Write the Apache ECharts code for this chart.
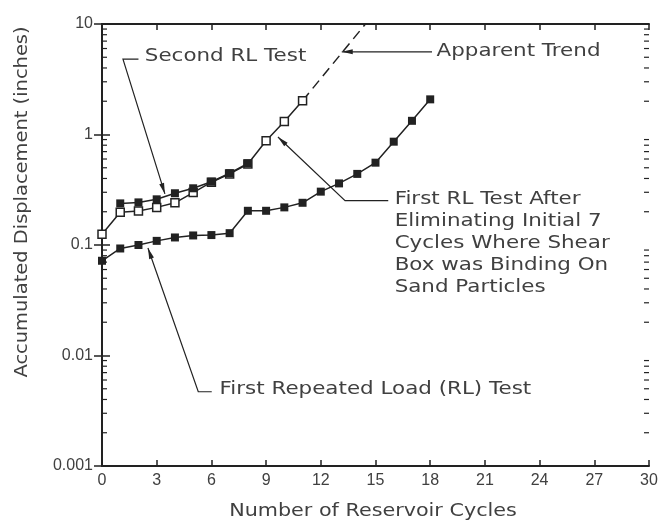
<!DOCTYPE html>
<html>
<head>
<meta charset="utf-8">
<script src="https://cdn.jsdelivr.net/npm/echarts@6/dist/echarts.min.js"></script>
<style>
html, body { margin: 0; padding: 0; background: #fff; }
#chart { width: 661px; height: 523px; }
</style>
</head>
<body>
<div id="chart"></div>
<script>
// First Repeated Load (RL) Test - lower curve, filled squares
var firstCycles = [0, 1, 2, 3, 4, 5, 6, 7, 8, 9, 10, 11, 12, 13, 14, 15, 16, 17, 18];
var firstDisp = [0.072, 0.093, 0.100, 0.109, 0.117, 0.122, 0.123, 0.128, 0.204, 0.204,
                 0.219, 0.241, 0.304, 0.361, 0.44, 0.556, 0.861, 1.33, 2.08];

// Second RL Test - upper curve, filled squares
var secondCycles = [1, 2, 3, 4, 5, 6, 7, 8];
var secondDisp = [0.238, 0.243, 0.259, 0.294, 0.326, 0.374, 0.446, 0.548];

// First RL test after eliminating initial 7 cycles - open squares
var afterCycles = [0, 1, 2, 3, 4, 5, 6, 7, 8, 9, 10, 11];
var afterDisp = [0.125, 0.198, 0.203, 0.219, 0.241, 0.298, 0.37, 0.44, 0.54, 0.879, 1.31, 2.02];

// apparent trend (dashed)
var trendCycles = [11, 14.45];
var trendDisp = [2.02, 10];

var yTickLabels = ['0.001', '0.01', '0.1', '1', '10'];
var decades = [0.001, 0.01, 0.1, 1];
var minorSteps = [2, 3, 4, 5, 6, 7, 8, 9];

var ink = '#222';
var textInk = '#404040';
var noteFont = 'DejaVu Sans';
var stretch = 1.26; // the plotter lettering is wider than any installed font

function pairs(xs, ys) {
  return xs.map(function (x, i) { return [x, ys[i]]; });
}

var minorTicks = [];
decades.forEach(function (d) {
  minorSteps.forEach(function (m) { minorTicks.push([0, m * d]); });
});

var notes = [
  { text: 'Second RL Test', at: [2.35, 5.1], path: [[2.0, 4.8], [1.15, 4.8], [3.45, 0.29]] },
  { text: 'Apparent Trend', at: [18.35, 5.6], path: [[18.1, 5.6], [13.15, 5.6]] },
  { text: 'First RL Test After\nEliminating Initial 7\nCycles Where Shear\nBox was Binding On\nSand Particles',
    at: [16.05, 0.102], path: [[15.7, 0.252], [13.33, 0.252], [9.65, 0.95]] },
  { text: 'First Repeated Load (RL) Test', at: [6.45, 0.0049], path: [[6.02, 0.0047], [5.28, 0.0047], [2.52, 0.094]] }
];

function arrowHead(p0, p1) {
  var dx = p1[0] - p0[0], dy = p1[1] - p0[1];
  var len = Math.sqrt(dx * dx + dy * dy);
  var ux = dx / len, uy = dy / len;
  var bx = p1[0] - ux * 11, by = p1[1] - uy * 11;
  return [p1, [bx - uy * 2.5, by + ux * 2.5], [bx + uy * 2.5, by - ux * 2.5]];
}

var chart = echarts.init(document.getElementById('chart'));

var squareLine = function (name, data, filled) {
  return {
    name: name,
    type: 'line',
    data: data,
    symbol: 'rect',
    symbolSize: 8,
    showSymbol: true,
    lineStyle: { color: ink, width: 1.5 },
    itemStyle: { color: filled ? ink : '#fff', borderColor: ink, borderWidth: filled ? 0 : 1.5 },
    z: filled ? 4 : 3,
    animation: false
  };
};

chart.setOption({
  backgroundColor: '#fff',
  animation: false,
  grid: { left: 102, right: 12, top: 24, bottom: 57 },
  xAxis: [{
    type: 'value', min: 0, max: 30, interval: 3,
    axisLine: { lineStyle: { color: ink, width: 2 } },
    axisTick: { inside: true, length: 6, lineStyle: { color: ink, width: 1.5 } },
    axisLabel: { fontFamily: 'Liberation Sans', fontSize: 16, color: textInk, margin: 7 },
    splitLine: { show: false }
  }, {
    type: 'value', min: 0, max: 30, interval: 3, position: 'top',
    axisLine: { lineStyle: { color: ink, width: 2 } },
    axisTick: { inside: true, length: 6, lineStyle: { color: ink, width: 1.5 } },
    axisLabel: { show: false },
    splitLine: { show: false }
  }],
  yAxis: [{
    type: 'log', logBase: 10, min: 0.001, max: 10,
    axisLine: { show: true, lineStyle: { color: ink, width: 2 } },
    axisTick: { show: true, inside: true, length: 8, lineStyle: { color: ink, width: 1.5 } },
    axisLabel: {
      fontFamily: 'Liberation Sans', fontSize: 16, color: textInk, margin: 9,
      formatter: function (v) { return yTickLabels[Math.round(Math.log10(v)) + 3]; }
    },
    splitLine: { show: false }
  }, {
    type: 'log', logBase: 10, min: 0.001, max: 10, position: 'right',
    axisLine: { show: true, lineStyle: { color: ink, width: 2 } },
    axisTick: { show: true, inside: true, length: 8, lineStyle: { color: ink, width: 1.5 } },
    axisLabel: { show: false },
    splitLine: { show: false }
  }],
  graphic: [{
    type: 'text', x: 22, y: 202, rotation: Math.PI / 2, scaleX: 1.08,
    style: {
      text: 'Accumulated Displacement (inches)', fontFamily: noteFont, fontSize: 18,
      fill: textInk, align: 'center', verticalAlign: 'middle'
    }
  }, {
    type: 'text', x: 373, y: 511, scaleX: 1.15,
    style: {
      text: 'Number of Reservoir Cycles', fontFamily: noteFont, fontSize: 18,
      fill: textInk, align: 'center', verticalAlign: 'middle'
    }
  }],
  series: [
    squareLine('First RL Test After Eliminating Initial 7 Cycles', pairs(afterCycles, afterDisp), false),
    squareLine('Second RL Test', pairs(secondCycles, secondDisp), true),
    squareLine('First Repeated Load (RL) Test', pairs(firstCycles, firstDisp), true),
    {
      name: 'Apparent Trend', type: 'line', data: pairs(trendCycles, trendDisp),
      showSymbol: false, symbol: 'none',
      lineStyle: { color: ink, width: 1.5, type: [10, 6] }, z: 2
    },
    {
      name: 'minor ticks', type: 'custom', data: minorTicks, silent: true, z: 5,
      renderItem: function (params, api) {
        var v = api.value(1);
        var l = api.coord([0, v]);
        var r = api.coord([30, v]);
        return {
          type: 'group',
          children: [
            { type: 'line', shape: { x1: l[0], y1: l[1], x2: l[0] + 5, y2: l[1] }, style: { stroke: ink, lineWidth: 1.2 } },
            { type: 'line', shape: { x1: r[0] - 5, y1: r[1], x2: r[0], y2: r[1] }, style: { stroke: ink, lineWidth: 1.2 } }
          ]
        };
      }
    },
    {
      name: 'notes', type: 'custom', data: [[0, 1]], silent: true, clip: false, z: 6,
      renderItem: function (params, api) {
        var children = [];
        notes.forEach(function (n) {
          var pts = n.path.map(function (p) { return api.coord(p); });
          children.push({ type: 'polyline', shape: { points: pts }, style: { stroke: ink, lineWidth: 1.2, fill: null } });
          children.push({ type: 'polygon', shape: { points: arrowHead(pts[pts.length - 2], pts[pts.length - 1]) }, style: { fill: ink } });
          var t = api.coord(n.at);
          children.push({
            type: 'text', x: t[0], y: t[1], scaleX: stretch,
            style: {
              text: n.text, fontFamily: noteFont, fontSize: 17, lineHeight: 22,
              fill: textInk, align: 'left', verticalAlign: 'middle'
            }
          });
        });
        return { type: 'group', children: children };
      }
    }
  ]
});
</script>
</body>
</html>
